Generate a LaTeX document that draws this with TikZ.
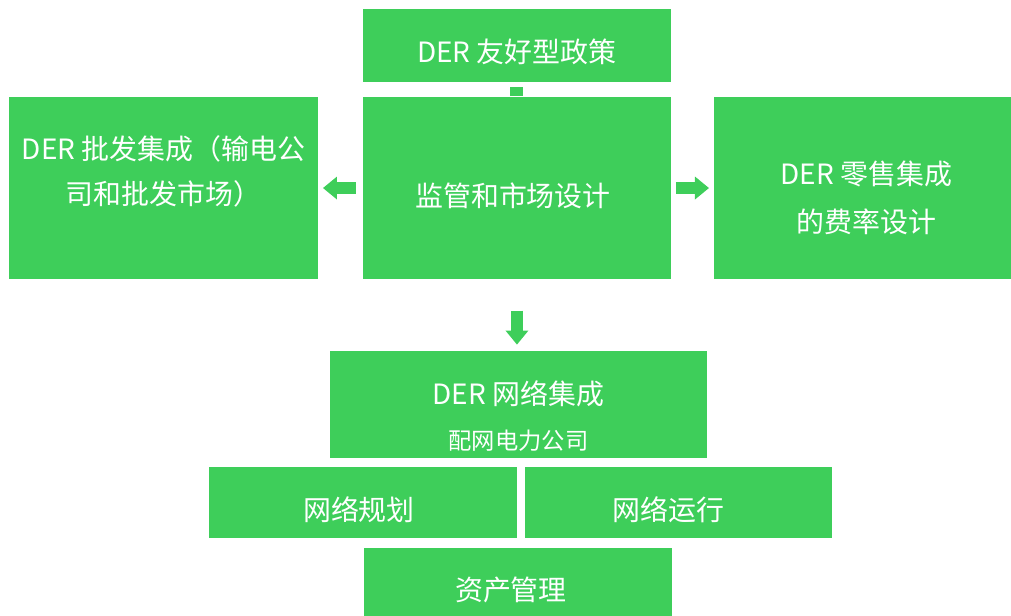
\documentclass[tikz,border=0pt]{standalone}
\usepackage{fontspec}
\setmainfont{Noto Sans CJK SC}
\usetikzlibrary{positioning,arrows.meta}
\usetikzlibrary{calc}
\definecolor{boxgreen}{RGB}{62,206,90}

\begin{document}
\begin{tikzpicture}
  \newdimen\pix
  \pix=0.025cm

  \tikzstyle{box} = [
    % The shape:
    rectangle, inner sep=0pt,
    % The filling:
    fill=boxgreen
  ];
  \tikzstyle{boxtext} = [
    % Just text!
    text=white, align=center, inner sep=0pt,
    font=\fontsize{19.9pt}{32pt}\selectfont
  ];
  \tikzstyle{blockArrow} = [
    draw=boxgreen,
    line width=12*\pix,
    -{Triangle[length=0.35cm, width=0.575cm, line width=0pt]}
  ];
  \tikzstyle{stub} = [
    draw=boxgreen,
    line width=13*\pix
  ];

  \node [box, minimum width=308*\pix, minimum height=183*\pix] (reg) {};
  \node [box, minimum width=309*\pix, minimum height=73*\pix, above = 14*\pix of reg] (policy) {};
  \node [box, minimum width=309*\pix, minimum height=183*\pix, left = 45*\pix of reg] (wholesale) {};
  \node [box, minimum width=297*\pix, minimum height=183*\pix, right = 43*\pix of reg] (retail) {};

  \node [box, minimum width=377*\pix, minimum height=107*\pix, below = 71*\pix of reg, xshift=1.5*\pix] (grid) {};
  \node [box, minimum width=308*\pix, minimum height=71*\pix, below left = 9*\pix and 1.5*\pix of grid.south] (planning) {};
  \node [box, minimum width=307*\pix, minimum height=71*\pix, below right = 9*\pix and 6.5*\pix of grid.south] (operation) {};
  \node [box, minimum width=308*\pix, minimum height=68*\pix, below = 9*\pix of planning.south east, xshift=1*\pix] (asset) {};

  % texts
  \node [boxtext, yshift=-6*\pix] (policyText) at (policy) {DER 友好型政策};
  \node [boxtext, xshift=-4*\pix, yshift=-7.5*\pix] (regText) at (reg) {监管和市场设计};
  \node [boxtext, yshift=17*\pix] (wholesaleText) at (wholesale) {DER 批发集成（输电公\\司和批发市场）};
  \node [boxtext, font=\fontsize{19.9pt}{34.7pt}\selectfont, xshift=4*\pix, yshift=-10*\pix] (retailText) at (retail) {DER 零售集成\\的费率设计};
  \node [boxtext, yshift=-12*\pix] (gridText) at (grid) {DER 网络集成\\{\fontsize{16.6pt}{32pt}\selectfont 配网电力公司}};
  \node [boxtext, xshift=-4*\pix, yshift=-7*\pix] (planningText) at (planning) {网络规划};
  \node [boxtext, xshift=-10*\pix, yshift=-7*\pix] (operationText) at (operation) {网络运行};
  \node [boxtext, xshift=-7*\pix, yshift=-8*\pix] (assetText) at (asset) {资产管理};

  % arrows
  \path [stub, shorten <=5*\pix] (policy.south) to (policy.south |- reg.north);
  \path [blockArrow, shorten <=7*\pix, shorten >=5*\pix] (reg.west) to (wholesale.east);
  \path [blockArrow, shorten <=5*\pix, shorten >=5*\pix] (reg.east) to (retail.west);
  \path [blockArrow, shorten <=31*\pix, shorten >=6*\pix] (reg.south) to (reg.south |- grid.north);

  % margin
  \coordinate (corner) at ($(wholesale.west |- policy.north)+(-9*\pix,9*\pix)$);
  \path (corner) rectangle (retail.east |- asset.south);
\end{tikzpicture}
\end{document}
